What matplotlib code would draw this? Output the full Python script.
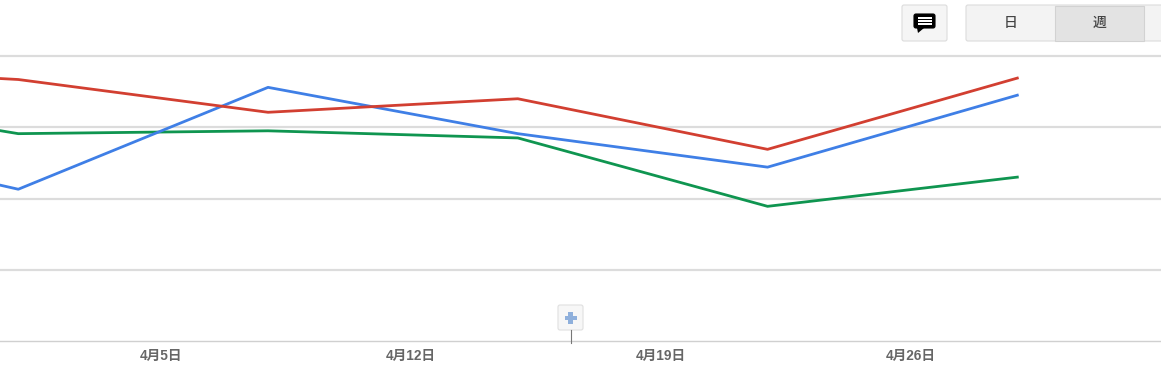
import datetime as dt
import matplotlib
matplotlib.use("Agg")
import matplotlib.pyplot as plt
import matplotlib.dates as mdates
from matplotlib.patches import FancyBboxPatch, Polygon, Rectangle

plt.rcParams['font.family'] = ['Liberation Sans', 'Noto Sans CJK JP', 'DejaVu Sans']

# weekly points, the first one lies off the left edge
dates = [dt.date(2015, 3, 25), dt.date(2015, 4, 1), dt.date(2015, 4, 8),
         dt.date(2015, 4, 15), dt.date(2015, 4, 22), dt.date(2015, 4, 29)]
red = [3.86, 3.67, 3.21, 3.40, 2.69, 3.69]
blue = [2.92, 2.13, 3.56, 2.91, 2.44, 3.45]
green = [3.49, 2.91, 2.95, 2.85, 1.89, 2.30]
tick_dates = [dt.date(2015, 4, 5), dt.date(2015, 4, 12),
              dt.date(2015, 4, 19), dt.date(2015, 4, 26)]
tick_labels = ['4月5日', '4月12日', '4月19日', '4月26日']
grid_values = [1, 2, 3, 4]
button_labels = ['日', '週']

W, H = 1161, 387
fig = plt.figure(figsize=(W / 100, H / 100), dpi=100, facecolor='white')

# main chart, from the top grid line down to the baseline
ax = fig.add_axes([0, (H - 341) / H, 1, 285 / H])
day0 = mdates.date2num(tick_dates[0])
ax.set_xlim(day0 - 161 / 35.68, day0 + 1000 / 35.68)
ax.set_ylim(0, 4)
for v in grid_values:
    ax.axhline(v, color='#dcdcdc', lw=1.6, clip_on=False, zorder=1)
ax.plot(dates, green, color='#0f9550', lw=2.0, zorder=3)
ax.plot(dates, blue, color='#3f7fe6', lw=2.0, zorder=4)
ax.plot(dates, red, color='#d23f31', lw=2.0, zorder=5)
for s in ['top', 'left', 'right']:
    ax.spines[s].set_visible(False)
ax.spines['bottom'].set_color('#d0d0d0')
ax.spines['bottom'].set_linewidth(1)
ax.set_yticks([])
ax.set_xticks(tick_dates)
ax.set_xticklabels(tick_labels, fontsize=9.8, fontweight='bold', color='#666666')
ax.tick_params(axis='x', length=0, pad=6)

# buttons on top, drawn in pixel coordinates
ui = fig.add_axes([0, 0, 1, 1], zorder=10)
ui.set_xlim(0, W)
ui.set_ylim(H, 0)
ui.axis('off')
ui.patch.set_alpha(0)


def button(x0, y0, x1, y1, face, edge='#dcdcdc', r=2):
    ui.add_patch(FancyBboxPatch((x0 + r, y0 + r), x1 - x0 - 2 * r, y1 - y0 - 2 * r,
                                boxstyle='round,pad=%d,rounding_size=%d' % (r, r),
                                fc=face, ec=edge, lw=0.8))


# comment button
button(902, 5, 947, 41, '#f5f5f5')
button(914, 14, 935, 28, 'black', edge='black', r=2)
ui.add_patch(Polygon([[917, 28], [924, 28], [918, 33]], fc='black', ec='none'))
for y in [17, 20, 23]:
    ui.add_patch(Rectangle((918, y), 14, 1.8, fc='white', ec='none'))

# day / week switch
button(966, 5, 1170, 41, '#f3f3f3')
ui.add_patch(Rectangle((1054.5, 5.5), 89, 35, fc='#e3e3e3', ec='#d2d2d2', lw=0.8))
ui.text(1010.5, 22.5, button_labels[0], ha='center', va='center', fontsize=10,
        fontweight='medium', color='#444444')
ui.text(1099.5, 22.5, button_labels[1], ha='center', va='center', fontsize=10,
        fontweight='medium', color='#444444')

# annotation marker
ui.plot([571, 571], [330, 343], color='#777777', lw=0.8)
button(558, 305, 583, 330, '#f7f7f7', edge='#e0e0e0')
ui.add_patch(Rectangle((564.5, 315.5), 12, 4.5, fc='#8fb0dc', ec='none'))
ui.add_patch(Rectangle((568.2, 312), 4.5, 12, fc='#8fb0dc', ec='none'))

fig.savefig('out.png', dpi=100)
